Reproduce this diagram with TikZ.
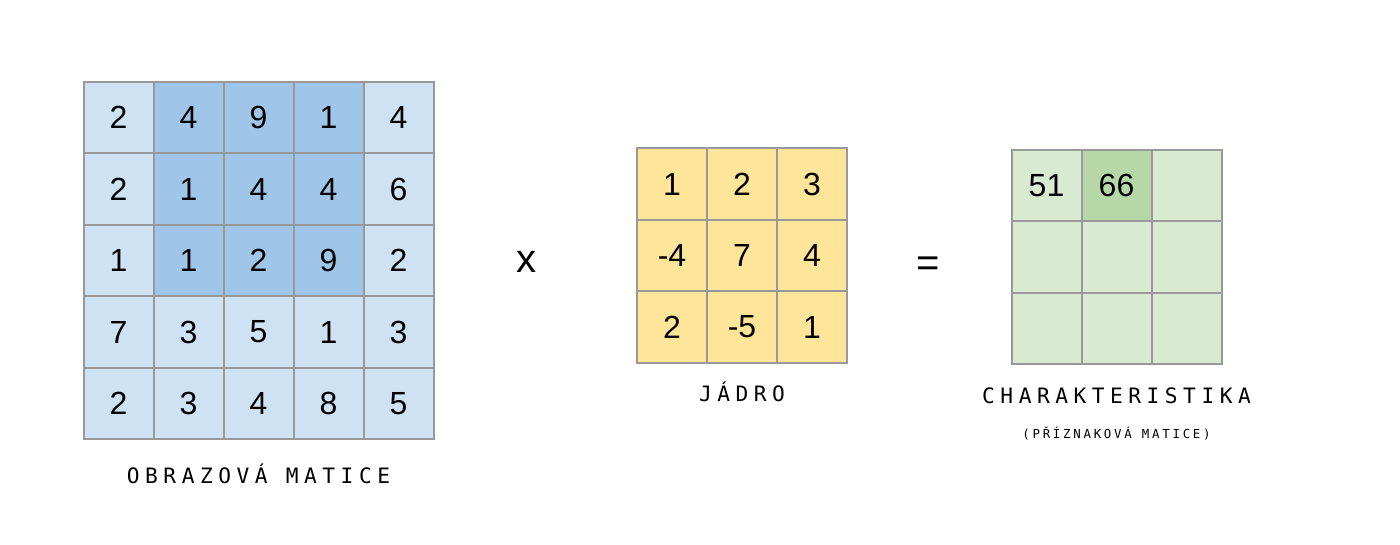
\documentclass[tikz,border=0pt]{standalone}
\usepackage{fontspec}
\setmainfont{Liberation Sans}
\newfontfamily\lblfont[LetterSpace=26]{DejaVu Sans Mono}
\newfontfamily\sublblfont[LetterSpace=22]{DejaVu Sans Mono}
\usepackage{tikz}
\usetikzlibrary{matrix,positioning}
\definecolor{gridgray}{HTML}{999999}
\definecolor{imglight}{HTML}{CFE2F3}
\definecolor{imgdark}{HTML}{9FC5E8}
\definecolor{kernyellow}{HTML}{FFE599}
\definecolor{featlight}{HTML}{D9EAD3}
\definecolor{featdark}{HTML}{B6D7A8}
\tikzset{
  cell/.style={draw=gridgray, line width=1pt, minimum width=35pt, minimum height=35.75pt,
    inner sep=0pt, outer sep=0pt, anchor=center, font=\fontsize{16}{16}\selectfont},
  grid/.style={matrix of nodes, nodes in empty cells, column sep=-1pt, row sep=-1pt,
    ampersand replacement=\&},
  lbl/.style={font=\lblfont\fontsize{10.6}{12}\selectfont, anchor=base},
  sublbl/.style={font=\sublblfont\fontsize{6.2}{8}\selectfont, anchor=base},
  op/.style={font=\fontsize{20}{20}\selectfont, inner sep=0pt}
}

\begin{document}
\begin{tikzpicture}[x=0.5pt,y=-0.5pt]
      \useasboundingbox (0,0) rectangle (1400,545);
      \matrix (img) at (258.5,260.5) [grid, nodes={cell, fill=imglight}] {
        2 \& |[fill=imgdark]| 4 \& |[fill=imgdark]| 9 \& |[fill=imgdark]| 1 \& 4 \\
        2 \& |[fill=imgdark]| 1 \& |[fill=imgdark]| 4 \& |[fill=imgdark]| 4 \& 6 \\
        1 \& |[fill=imgdark]| 1 \& |[fill=imgdark]| 2 \& |[fill=imgdark]| 9 \& 2 \\
        7 \& 3 \& 5 \& 1 \& 3 \\
        2 \& 3 \& 4 \& 8 \& 5 \\
      };
      \matrix (kern) at (742,255.5) [grid, nodes={cell, fill=kernyellow}] {
        1  \& 2  \& 3 \\
        -4 \& 7  \& 4 \\
        2  \& -5 \& 1 \\
      };
      \matrix (feat) at (1116.5,257) [grid, nodes={cell, fill=featlight}] {
        51 \& |[fill=featdark]| 66 \& \\
           \&                      \& \\
           \&                      \& \\
      };
      \node[op] (times)  at (526,262) {x};
      \node[op] (equals) at (928,267) {=};
      \node[lbl] (imglbl)  at ([yshift=-18pt]img.south)    {OBRAZOVÁ MATICE};
      \node[lbl] (kernlbl) at ([yshift=-15.5pt]kern.south) {JÁDRO};
      \node[lbl] (featlbl) at ([yshift=-15.5pt]feat.south) {CHARAKTERISTIKA};
      \node[sublbl] (featsub) at ([yshift=-17.5pt]featlbl.base) {(PŘÍZNAKOVÁ MATICE)};
    \end{tikzpicture}
\end{document}
